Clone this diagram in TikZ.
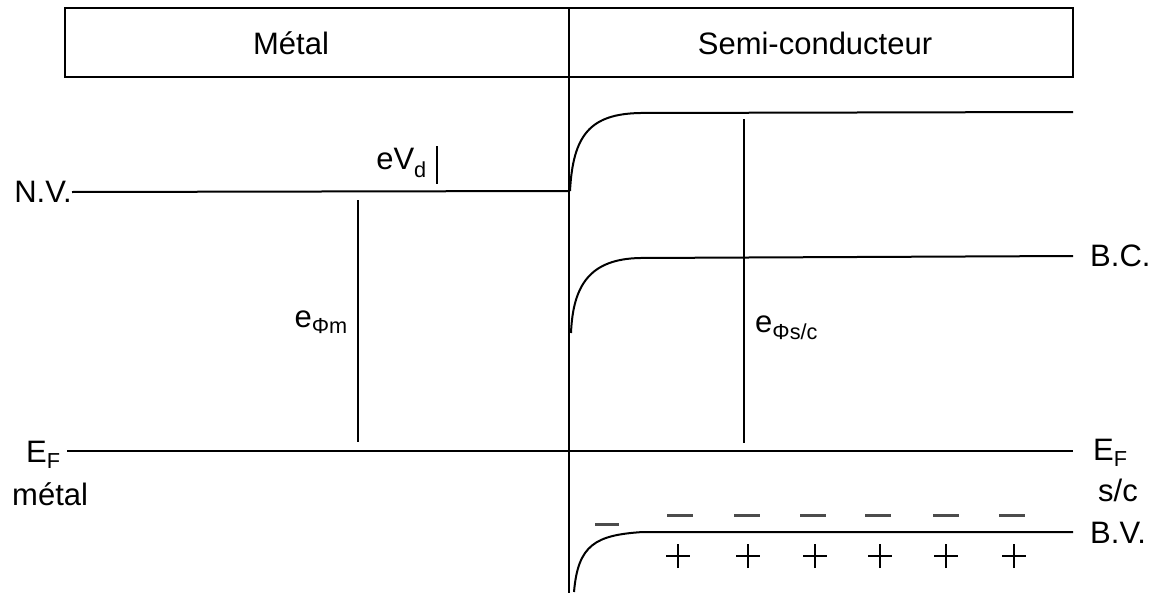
\documentclass[tikz,border=0pt]{standalone}
\usepackage{fontspec}
\setmainfont{Liberation Sans}
\begin{document}
\begin{tikzpicture}[x=1pt,y=-1pt,
  lbl/.style={inner sep=0pt, font=\fontsize{31}{36}\selectfont},
  band/.style={line width=2pt},
  gauge/.style={line width=1.8pt},
  frame/.style={line width=2.2pt},
  minus/.style={line width=3pt, black!70},
  plus/.style={line width=1.8pt}]
\useasboundingbox (0,0) rectangle (1162,597);
% header box
\draw[frame] (65,8) rectangle (1073,77);
\node[lbl] (metal) at (291,43) {Métal};
\node[lbl] (sc) at (815,43) {Semi-conducteur};
% junction
\coordinate (jT) at (569,8);
\coordinate (jB) at (569,593);
\draw[frame] (jT) -- (jB);
% vacuum level
\node[lbl, anchor=east] (nv) at (72,192) {N.V.};
\coordinate (nvR) at (569,191);
\draw[band] (nv.east) -- (nvR);
\coordinate (topE) at (1073,112);
\draw[band] (570,191) .. controls (573,135) and (590,114) .. (640,113) -- (topE);
% eVd
\coordinate (vdT) at (437,146);
\coordinate (vdB) at (437,184);
\draw[gauge] (vdT) -- (vdB);
\node[lbl, anchor=east] (evd) at (427,163) {eV\textsubscript{d}};
% e phi m
\coordinate (pmT) at (358,200);
\coordinate (pmB) at (358,442);
\draw[gauge] (pmT) -- (pmB);
\node[lbl, anchor=east] (ephim) at (348,322) {e\textsubscript{Φm}};
% e phi s/c
\coordinate (psT) at (744,119);
\coordinate (psB) at (744,443);
\draw[gauge] (psT) -- (psB);
\node[lbl, anchor=west] (ephis) at (755,328) {e\textsubscript{Φs/c}};
% conduction band
\node[lbl, anchor=west] (bc) at (1090,256) {B.C.};
\coordinate (bcE) at (1073,256);
\draw[band] (571,333) .. controls (573,285) and (590,259) .. (640,258) -- (bcE);
% Fermi level
\node[lbl, anchor=west] (efm) at (26,455) {E\textsubscript{F}};
\node[lbl, anchor=west] (metal2) at (12,494) {métal};
\node[lbl, anchor=west] (efs) at (1093,453) {E\textsubscript{F}};
\node[lbl, anchor=west] (slc) at (1098,490) {s/c};
\coordinate (efL) at (67,451);
\coordinate (efR) at (1073,451);
\draw[band] (efL) -- (efR);
% valence band
\node[lbl, anchor=west] (bv) at (1090,533) {B.V.};
\coordinate (bvE) at (1073,532);
\draw[band] (574,592) .. controls (578,545) and (595,535) .. (643,532) -- (bvE);
% charges
\coordinate (m0) at (607,524);
\draw[minus] ([xshift=-12pt]m0) -- ([xshift=12pt]m0);
\foreach \x [count=\i] in {680,747,813,878,946,1012}{
  \coordinate (m\i) at (\x,515);
  \draw[minus] ([xshift=-13pt]m\i) -- ([xshift=13pt]m\i);
}
\foreach \x [count=\i] in {678,748,815,880,946,1014}{
  \coordinate (p\i) at (\x,556);
  \draw[plus] ([xshift=-12pt]p\i) -- ([xshift=12pt]p\i);
  \draw[plus] ([yshift=-12pt]p\i) -- ([yshift=12pt]p\i);
}
\end{tikzpicture}
\end{document}
